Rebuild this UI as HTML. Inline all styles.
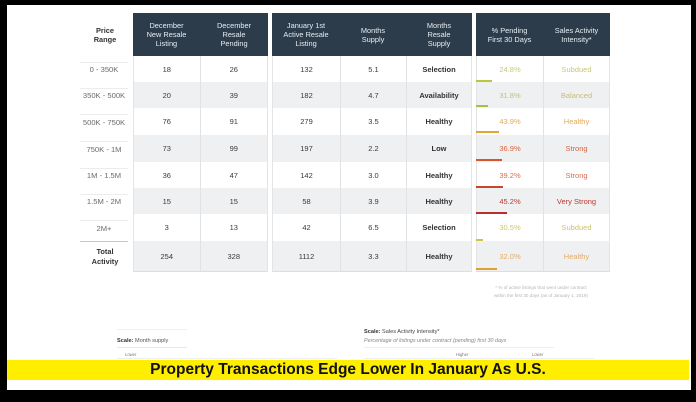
<!DOCTYPE html>
<html>
<head>
<meta charset="utf-8">
<style>
  html,body{margin:0;padding:0;}
  body{width:696px;height:402px;background:#000;position:relative;overflow:hidden;font-family:"Liberation Sans",Arial,sans-serif;}
  .page{position:absolute;left:7px;top:5px;width:684px;height:385px;background:#fff;}
  .abs{position:absolute;}
  .blk{position:absolute;top:13px;}
  .hd{position:absolute;left:0;top:0;height:43px;background:#2d3c4b;display:flex;}
  .hc{height:43px;display:flex;align-items:center;justify-content:center;text-align:center;color:#e8edf2;font-size:7.4px;line-height:9px;}
  .body{position:absolute;left:0;top:43px;border-left:1px solid #e2e4e6;border-right:1px solid #e2e4e6;border-bottom:1px solid #dcdfe2;box-sizing:border-box;}
  .row{display:flex;}
  .row.g{background:#eef0f2;}
  .cell{display:flex;align-items:center;justify-content:center;font-size:7.5px;color:#3a3a3a;box-sizing:border-box;}
  .cell.sep{border-right:1px solid #e0e2e4;}
  .b{font-weight:bold;color:#333;}
  .lbl{position:absolute;left:78px;width:52px;text-align:center;font-size:7.6px;color:#6a6a6a;}
  .fl{position:absolute;left:80px;width:48px;height:1px;background:#ececec;}
  .bar{position:absolute;height:2px;left:476px;}
</style>
</head>
<body>
<div class="page"></div>

<!-- Price Range header -->
<div class="abs" style="left:78px;top:26px;width:54px;text-align:center;font-size:7.4px;line-height:9px;font-weight:bold;color:#333;">Price<br>Range</div>

<!-- Left labels -->
<div class="fl" style="top:62px"></div>
<div class="lbl" style="top:65px">0 - 350K</div>
<div class="fl" style="top:88px"></div>
<div class="lbl" style="top:91px">350K - 500K</div>
<div class="fl" style="top:114px"></div>
<div class="lbl" style="top:118px">500K - 750K</div>
<div class="fl" style="top:141px"></div>
<div class="lbl" style="top:145px">750K - 1M</div>
<div class="fl" style="top:168px"></div>
<div class="lbl" style="top:171px">1M - 1.5M</div>
<div class="fl" style="top:194px"></div>
<div class="lbl" style="top:197px">1.5M - 2M</div>
<div class="fl" style="top:220px"></div>
<div class="lbl" style="top:224px">2M+</div>
<div class="abs" style="left:80px;top:241px;width:48px;height:1px;background:#c8c8c8;"></div>
<div class="abs" style="left:78px;top:247px;width:54px;text-align:center;font-size:7.4px;line-height:9.5px;font-weight:bold;color:#333;">Total<br>Activity</div>

<!-- Block 1 -->
<div class="blk" style="left:133px;width:135px;">
  <div class="hd" style="width:135px;">
    <div class="hc" style="width:67px">December<br>New Resale<br>Listing</div>
    <div class="hc" style="width:68px">December<br>Resale<br>Pending</div>
  </div>
  <div class="body" style="width:135px;">
    <div class="row" style="height:26px"><div class="cell sep" style="width:67px">18</div><div class="cell" style="width:67px">26</div></div>
    <div class="row g" style="height:26px"><div class="cell sep" style="width:67px">20</div><div class="cell" style="width:67px">39</div></div>
    <div class="row" style="height:27px"><div class="cell sep" style="width:67px">76</div><div class="cell" style="width:67px">91</div></div>
    <div class="row g" style="height:27px"><div class="cell sep" style="width:67px">73</div><div class="cell" style="width:67px">99</div></div>
    <div class="row" style="height:26px"><div class="cell sep" style="width:67px">36</div><div class="cell" style="width:67px">47</div></div>
    <div class="row g" style="height:26px"><div class="cell sep" style="width:67px">15</div><div class="cell" style="width:67px">15</div></div>
    <div class="row" style="height:27px"><div class="cell sep" style="width:67px">3</div><div class="cell" style="width:67px">13</div></div>
    <div class="row g" style="height:30px"><div class="cell sep" style="width:67px">254</div><div class="cell" style="width:67px">328</div></div>
  </div>
</div>

<!-- Block 2 -->
<div class="blk" style="left:272px;width:200px;">
  <div class="hd" style="width:200px;">
    <div class="hc" style="width:68px">January 1st<br>Active Resale<br>Listing</div>
    <div class="hc" style="width:66px">Months<br>Supply</div>
    <div class="hc" style="width:66px">Months<br>Resale<br>Supply</div>
  </div>
  <div class="body" style="width:200px;">
    <div class="row" style="height:26px"><div class="cell sep" style="width:68px">132</div><div class="cell sep" style="width:66px">5.1</div><div class="cell b" style="width:64px">Selection</div></div>
    <div class="row g" style="height:26px"><div class="cell sep" style="width:68px">182</div><div class="cell sep" style="width:66px">4.7</div><div class="cell b" style="width:64px">Availability</div></div>
    <div class="row" style="height:27px"><div class="cell sep" style="width:68px">279</div><div class="cell sep" style="width:66px">3.5</div><div class="cell b" style="width:64px">Healthy</div></div>
    <div class="row g" style="height:27px"><div class="cell sep" style="width:68px">197</div><div class="cell sep" style="width:66px">2.2</div><div class="cell b" style="width:64px">Low</div></div>
    <div class="row" style="height:26px"><div class="cell sep" style="width:68px">142</div><div class="cell sep" style="width:66px">3.0</div><div class="cell b" style="width:64px">Healthy</div></div>
    <div class="row g" style="height:26px"><div class="cell sep" style="width:68px">58</div><div class="cell sep" style="width:66px">3.9</div><div class="cell b" style="width:64px">Healthy</div></div>
    <div class="row" style="height:27px"><div class="cell sep" style="width:68px">42</div><div class="cell sep" style="width:66px">6.5</div><div class="cell b" style="width:64px">Selection</div></div>
    <div class="row g" style="height:30px"><div class="cell sep" style="width:68px">1112</div><div class="cell sep" style="width:66px">3.3</div><div class="cell b" style="width:64px">Healthy</div></div>
  </div>
</div>

<!-- Block 3 -->
<div class="blk" style="left:476px;width:134px;">
  <div class="hd" style="width:134px;">
    <div class="hc" style="width:67px">% Pending<br>First 30 Days</div>
    <div class="hc" style="width:67px">Sales Activity<br>Intensity*</div>
  </div>
  <div class="body" style="width:134px;">
    <div class="row" style="height:26px"><div class="cell sep" style="width:67px;color:#c9c77a">24.8%</div><div class="cell" style="width:65px;color:#c9c77a">Subdued</div></div>
    <div class="row g" style="height:26px"><div class="cell sep" style="width:67px;color:#c4bf78">31.8%</div><div class="cell" style="width:65px;color:#c4bf78">Balanced</div></div>
    <div class="row" style="height:27px"><div class="cell sep" style="width:67px;color:#e2ab55">43.9%</div><div class="cell" style="width:65px;color:#e2ab55">Healthy</div></div>
    <div class="row g" style="height:27px"><div class="cell sep" style="width:67px;color:#d9643f">36.9%</div><div class="cell" style="width:65px;color:#d9643f">Strong</div></div>
    <div class="row" style="height:26px"><div class="cell sep" style="width:67px;color:#d46e55">39.2%</div><div class="cell" style="width:65px;color:#d46e55">Strong</div></div>
    <div class="row g" style="height:26px"><div class="cell sep" style="width:67px;color:#c0392b">45.2%</div><div class="cell" style="width:65px;color:#c0392b">Very Strong</div></div>
    <div class="row" style="height:27px"><div class="cell sep" style="width:67px;color:#ccc56a">30.5%</div><div class="cell" style="width:65px;color:#ccc56a">Subdued</div></div>
    <div class="row g" style="height:30px"><div class="cell sep" style="width:67px;color:#e2ad6a">32.0%</div><div class="cell" style="width:65px;color:#e2ad6a">Healthy</div></div>
  </div>
</div>

<!-- Bars -->
<div class="bar" style="top:80px;width:16px;background:#b9c63f;"></div>
<div class="bar" style="top:105px;width:12px;background:#a8c042;"></div>
<div class="bar" style="top:131px;width:23px;background:#e0a830;"></div>
<div class="bar" style="top:159px;width:26px;background:#d8562e;"></div>
<div class="bar" style="top:186px;width:27px;background:#c9452e;"></div>
<div class="bar" style="top:212px;width:31px;background:#b8302a;"></div>
<div class="bar" style="top:239px;width:7px;background:#c9c64a;"></div>
<div class="bar" style="top:268px;width:21px;background:#e0a030;"></div>

<!-- Footnote -->
<div class="abs" style="left:476px;top:284px;width:130px;text-align:center;font-size:4.6px;line-height:8px;color:#b5b5b5;">* % of active listings that went under contract<br>within the first 30 days (as of January 1, 2019)</div>

<!-- Scale left -->
<div class="abs" style="left:117px;top:329px;width:70px;height:1px;background:#f0f0f0;"></div>
<div class="abs" style="left:117px;top:338px;font-size:5.6px;color:#555;white-space:nowrap;"><b style="color:#333">Scale:</b> Month supply</div>
<div class="abs" style="left:117px;top:347px;width:70px;height:1px;background:#e8e8e8;"></div>
<div class="abs" style="left:125px;top:352px;font-size:4.2px;color:#777;">Lower</div>
<div class="abs" style="left:117px;top:358px;width:220px;height:1px;background:#eee;"></div>

<!-- Scale right -->
<div class="abs" style="left:364px;top:329px;font-size:5.6px;color:#444;white-space:nowrap;"><b style="color:#333">Scale:</b> Sales Activity Intensity*</div>
<div class="abs" style="left:364px;top:338px;font-size:5.4px;color:#888;font-style:italic;white-space:nowrap;">Percentage of listings under contract (pending) first 30 days</div>
<div class="abs" style="left:364px;top:347px;width:190px;height:1px;background:#eee;"></div>
<div class="abs" style="left:456px;top:352px;font-size:4.2px;color:#777;">Higher</div>
<div class="abs" style="left:532px;top:352px;font-size:4.2px;color:#777;">Lower</div>
<div class="abs" style="left:364px;top:358px;width:230px;height:1px;background:#eee;"></div>

<!-- Yellow banner -->
<div class="abs" style="left:7px;top:360px;width:682px;height:20px;background:#ffee00;"></div>
<div class="abs" style="left:7px;top:360px;width:682px;height:20px;line-height:20px;text-align:center;font-size:15.5px;font-weight:bold;color:#111;white-space:nowrap;">Property Transactions Edge Lower In January As U.S.</div>
</body>
</html>
